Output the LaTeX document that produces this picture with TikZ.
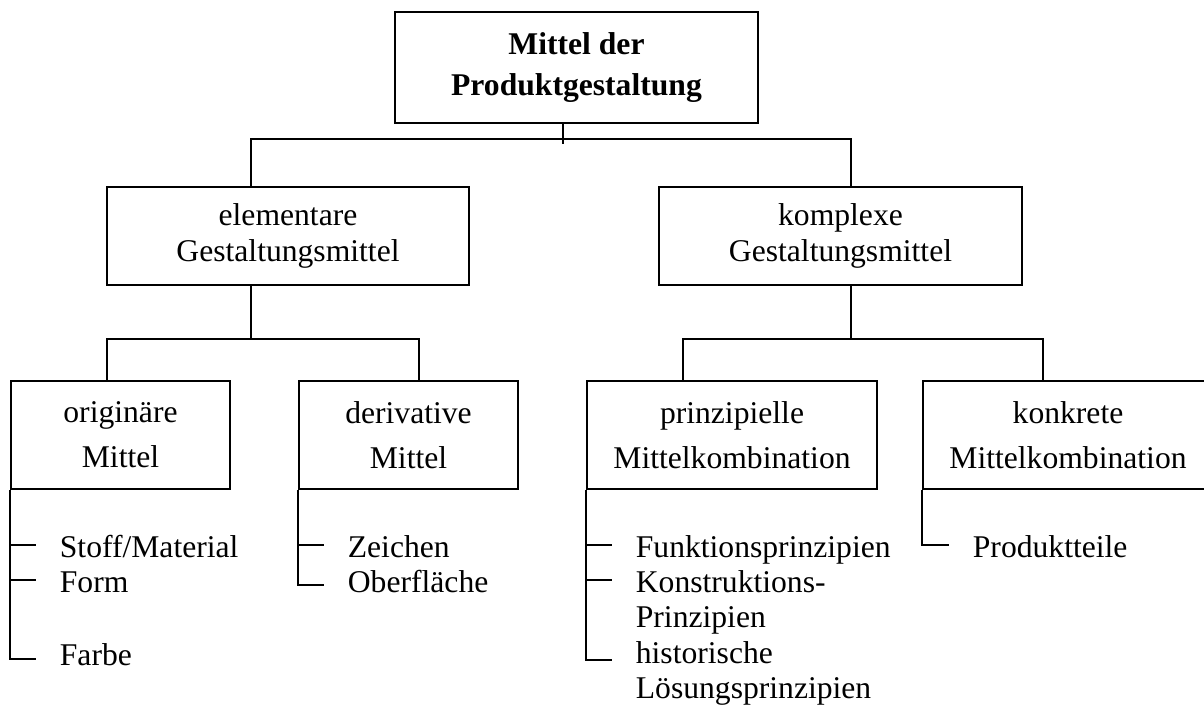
\documentclass[tikz,border=0pt]{standalone}
\usepackage{fontspec}
\setmainfont{Liberation Serif}
\newcommand{\grundschrift}{\fontsize{18}{20.7}\selectfont}
\begin{document}
\begin{tikzpicture}[x=0.02cm, y=-0.02cm, line width=1pt, font=\grundschrift,
  kasten/.style={draw, align=center, inner sep=0pt},
  eintrag/.style={anchor=base west, inner sep=0pt, text height=13.6pt, text depth=0pt},
  ast/.style={shorten >=0.47cm}]
  \useasboundingbox (0,0) rectangle (1204,707);
  \clip (0,0) rectangle (1204,707);
  % Kaesten
  \node[kasten, minimum width=7.26cm, minimum height=2.22cm, font=\grundschrift\bfseries] (top) at (576.5,67.5) {Mittel der\\[2.6pt]Produktgestaltung};
  \node[kasten, minimum width=7.24cm, minimum height=1.96cm] (elem) at (288,236) {elementare\\Gestaltungsmittel};
  \node[kasten, minimum width=7.26cm, minimum height=1.96cm] (kompl) at (840.5,236) {komplexe\\Gestaltungsmittel};
  \node[kasten, minimum width=4.38cm, minimum height=2.16cm] (orig) at (120.5,435) {originäre\\[4.9pt]Mittel};
  \node[kasten, minimum width=4.38cm, minimum height=2.16cm] (deriv) at (408.5,435) {derivative\\[4.9pt]Mittel};
  \node[kasten, minimum width=5.8cm, minimum height=2.16cm] (prinz) at (732,435) {prinzipielle\\[4.9pt]Mittelkombination};
  \node[kasten, minimum width=5.8cm, minimum height=2.16cm] (konkr) at (1068,435) {konkrete\\[4.9pt]Mittelkombination};
  % Eintraege
  \node[eintrag] (stoff) at (59,557) {Stoff/Material};
  \node[eintrag] (form) at (59,592) {Form};
  \node[eintrag] (farbe) at (59,665) {Farbe};
  \node[eintrag] (zeichen) at (347,557) {Zeichen};
  \node[eintrag] (oberfl) at (347,592) {Oberfläche};
  \node[eintrag] (funktion) at (635,557) {Funktionsprinzipien};
  \node[eintrag] (konstr) at (635,592) {Konstruktions-};
  \node[eintrag] (konstr2) at (635,627) {Prinzipien};
  \node[eintrag] (hist) at (635,663) {historische};
  \node[eintrag] (hist2) at (635,698) {Lösungsprinzipien};
  \node[eintrag] (teile) at (972,557) {Produktteile};
  % Verbindungen
  \coordinate (j0) at (563,139);
  \coordinate (s1) at (251,139);
  \coordinate (s2) at (851,139);
  \coordinate (s3) at (107,339);
  \coordinate (s4) at (419,339);
  \coordinate (s5) at (683,339);
  \coordinate (s6) at (1043,339);
  \draw (top.south -| j0) -- ++(0,20);
  \draw (s1 |- elem.north) -- (s1) -- (s2) -- (s2 |- kompl.north);
  \draw (s1 |- elem.south) -- (s1 |- s3);
  \draw (s3 |- orig.north) -- (s3) -- (s4) -- (s4 |- deriv.north);
  \draw (s2 |- kompl.south) -- (s2 |- s5);
  \draw (s5 |- prinz.north) -- (s5) -- (s6) -- (s6 |- konkr.north);
  % Aeste
  \draw[ast] (orig.south west) |- ([yshift=-0.12cm]farbe.west);
  \draw[ast] (orig.south west |- stoff.west) -- (stoff.west);
  \draw[ast] (orig.south west |- form.west) -- (form.west);
  \draw[ast] (deriv.south west) |- ([yshift=-0.1cm]oberfl.west);
  \draw[ast] (deriv.south west |- zeichen.west) -- (zeichen.west);
  \draw[ast] (prinz.south west) |- ([yshift=-0.18cm]hist.west);
  \draw[ast] (prinz.south west |- funktion.west) -- (funktion.west);
  \draw[ast] (prinz.south west |- konstr.west) -- (konstr.west);
  \draw[ast] (konkr.south west) |- (teile.west);
\end{tikzpicture}
\end{document}
